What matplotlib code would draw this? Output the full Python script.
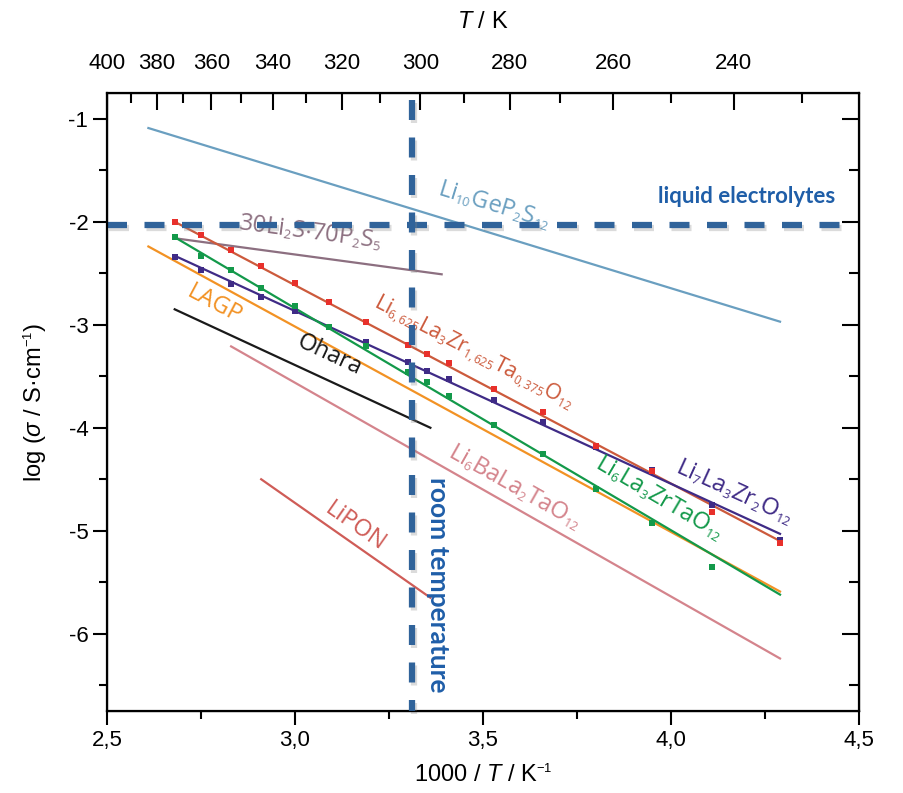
import numpy as np
import matplotlib
matplotlib.use("Agg")
import matplotlib.pyplot as plt
import matplotlib.patheffects as pe
import matplotlib._mathtext as mtext
from matplotlib.ticker import FixedLocator, FuncFormatter, MultipleLocator

plt.rcParams['font.family'] = ['Liberation Sans', 'DejaVu Sans']
plt.rcParams['axes.unicode_minus'] = False
plt.rcParams['mathtext.fontset'] = 'custom'
plt.rcParams['mathtext.rm'] = 'Liberation Sans'
plt.rcParams['mathtext.it'] = 'Liberation Sans:italic'
mtext.SHRINK_FACTOR = 0.55  # smaller sub/superscripts, like the original

# measured points, 1000/T in K^-1
inv_t = [2.68, 2.75, 2.83, 2.91, 3.00, 3.09, 3.19, 3.30, 3.35, 3.41, 3.53, 3.66, 3.80, 3.95, 4.11, 4.29]
llzto_pts = [-2.00, -2.13, -2.27, -2.43, -2.59, -2.78, -2.97, -3.20, -3.28, -3.37, -3.62, -3.85, -4.18, -4.42, -4.82, -5.12]
llzo_pts = [-2.34, -2.47, -2.60, -2.73, -2.87, -3.02, -3.17, -3.36, -3.45, -3.53, -3.73, -3.94, -4.19, -4.41, -4.75, -5.09]
lzto_pts = [-2.15, -2.33, -2.47, -2.64, -2.82, -3.02, -3.21, -3.46, -3.56, -3.69, -3.97, -4.25, -4.59, -4.92, -5.35]

# straight lines (start / end)
llzto_x, llzto_y = [2.68, 4.29], [-2.00, -5.10]
llzo_x, llzo_y = [2.68, 4.29], [-2.33, -5.03]
lzto_x, lzto_y = [2.68, 4.29], [-2.15, -5.62]
lgps_x, lgps_y = [2.61, 4.29], [-1.09, -2.97]
lps_x, lps_y = [2.68, 3.39], [-2.16, -2.51]
lagp_x, lagp_y = [2.61, 4.29], [-2.24, -5.59]
ohara_x, ohara_y = [2.68, 3.36], [-2.85, -4.00]
lblt_x, lblt_y = [2.83, 4.29], [-3.21, -6.24]
lipon_x, lipon_y = [2.91, 3.36], [-4.50, -5.65]

liquid_level = -2.03
room_t = 3.31

top_major_T = [400, 380, 360, 340, 320, 300, 280, 260, 240]
top_minor_T = [390, 370, 350, 330, 310, 290, 270, 250, 230]

fig = plt.figure(figsize=(9.04, 7.93), dpi=100)
ax = fig.add_axes([0.1184, 0.1034, 0.8318, 0.7793])
ax.set_xlim(2.5, 4.5)
ax.set_ylim(-6.75, -0.75)

ax.plot(lgps_x, lgps_y, color='#6a9fc0', lw=1.6)
ax.plot(lps_x, lps_y, color='#8c6f80', lw=1.6)
ax.plot(lagp_x, lagp_y, color='#f29224', lw=1.6)
ax.plot(ohara_x, ohara_y, color='#1a1a1a', lw=1.6)
ax.plot(lblt_x, lblt_y, color='#d4848c', lw=1.6)
ax.plot(lipon_x, lipon_y, color='#cf5c57', lw=1.6)

ax.plot(llzto_x, llzto_y, color='#cc5a3c', lw=1.6)
ax.plot(llzo_x, llzo_y, color='#3f2b86', lw=1.6)
ax.plot(lzto_x, lzto_y, color='#13994a', lw=1.6)
ax.plot(inv_t, llzo_pts, 's', color='#3f2b86', ms=4.5, mew=0)
ax.plot(inv_t[:len(lzto_pts)], lzto_pts, 's', color='#13994a', ms=4.5, mew=0)
ax.plot(inv_t, llzto_pts, 's', color='#e8302b', ms=4.5, mew=0)

shadow = [pe.SimpleLineShadow(offset=(1.5, -2), shadow_color='#888888', alpha=0.3), pe.Normal()]
ax.plot([2.5, 4.46], [liquid_level, liquid_level], color='#30639a', lw=4.5,
        dashes=(3.2, 2.8), path_effects=shadow, zorder=5)
ax.plot([room_t, room_t], [-0.82, -6.75], color='#30639a', lw=4.5,
        dashes=(3.2, 2.8), path_effects=shadow, zorder=5, clip_on=False)

lab = dict(family=['Open Sans', 'DejaVu Sans'], fontsize=17, ha='center', va='center')
ax.text(3.53, -1.84, r'$\mathregular{Li_{10}GeP_2S_{12}}$', color='#6a9fc0', rotation=-17, **lab)
ax.text(3.04, -2.10, r'$\mathregular{30Li_2S{\cdot}70P_2S_5}$', color='#8c6f80', rotation=-7.5, **lab)
ax.text(2.785, -2.80, 'LAGP', color='#f29224', rotation=-28, **lab)
ax.text(3.09, -3.29, 'Ohara', color='#1a1a1a', rotation=-25, **lab)
ax.text(3.475, -3.27, r'$\mathregular{Li_{6,625}La_3Zr_{1,625}Ta_{0,375}O_{12}}$', color='#cc5a3c',
        rotation=-27.5, family=['Open Sans', 'DejaVu Sans'], fontsize=15.5, ha='center', va='center')
ax.text(4.17, -4.62, r'$\mathregular{Li_7La_3Zr_2O_{12}}$', color='#3f2b86', rotation=-24.5, **lab)
ax.text(3.97, -4.68, r'$\mathregular{Li_6La_3ZrTaO_{12}}$', color='#13994a', rotation=-30.5, **lab)
ax.text(3.585, -4.58, r'$\mathregular{Li_6BaLa_2TaO_{12}}$', color='#d4848c', rotation=-29.5, **lab)
ax.text(3.16, -4.96, 'LiPON', color='#cf5c57', rotation=-35, **lab)

ax.text(4.20, -1.75, 'liquid electrolytes', color='#1f5ea8', fontsize=16, fontweight='bold',
        family=['Lato', 'DejaVu Sans'], ha='center', va='center')
ax.text(3.38, -5.52, 'room temperature', color='#1f5ea8', fontsize=19, fontweight='bold',
        family=['Lato', 'DejaVu Sans'], ha='center', va='center', rotation=-90)

# bottom / left axes
ax.xaxis.set_major_locator(MultipleLocator(0.5))
ax.xaxis.set_minor_locator(MultipleLocator(0.25))
ax.xaxis.set_major_formatter(FuncFormatter(lambda v, p: f"{v:.1f}".replace('.', ',')))
ax.yaxis.set_major_locator(MultipleLocator(1))
ax.yaxis.set_minor_locator(MultipleLocator(0.5))
ax.yaxis.set_major_formatter(FuncFormatter(lambda v, p: f"{v:.0f}"))
ax.tick_params(which='both', direction='out', width=1.5, labelsize=16, top=False, right=False)
ax.tick_params(which='major', length=10)
ax.tick_params(which='minor', length=6)
for s in ax.spines.values():
    s.set_linewidth(1.6)

ax.set_xlabel(r'1000 / $\it{T}$ / K$^{-1}$', fontsize=17, labelpad=10)
ax.set_ylabel(r'log ($\it{\sigma}$ / S·cm$^{-1}$)', fontsize=17, labelpad=14)

# right axis ticks only
ay = ax.twinx()
ay.set_ylim(ax.get_ylim())
ay.yaxis.set_major_locator(MultipleLocator(1))
ay.yaxis.set_minor_locator(MultipleLocator(0.5))
ay.tick_params(which='both', direction='in', width=1.5, labelright=False)
ay.tick_params(which='major', length=12)
ay.tick_params(which='minor', length=7)

# top axis in T / K
at = ax.twiny()
at.set_xlim(ax.get_xlim())
at.xaxis.set_major_locator(FixedLocator([1000 / t for t in top_major_T]))
at.xaxis.set_minor_locator(FixedLocator([1000 / t for t in top_minor_T]))
at.set_xticklabels([str(t) for t in top_major_T])
at.tick_params(which='both', direction='in', width=1.5, labelsize=16, pad=14)
at.tick_params(which='major', length=12)
at.tick_params(which='minor', length=7)
at.set_xlabel(r'$\it{T}$ / K', fontsize=17, labelpad=18)

fig.savefig('out.png', dpi=100)
